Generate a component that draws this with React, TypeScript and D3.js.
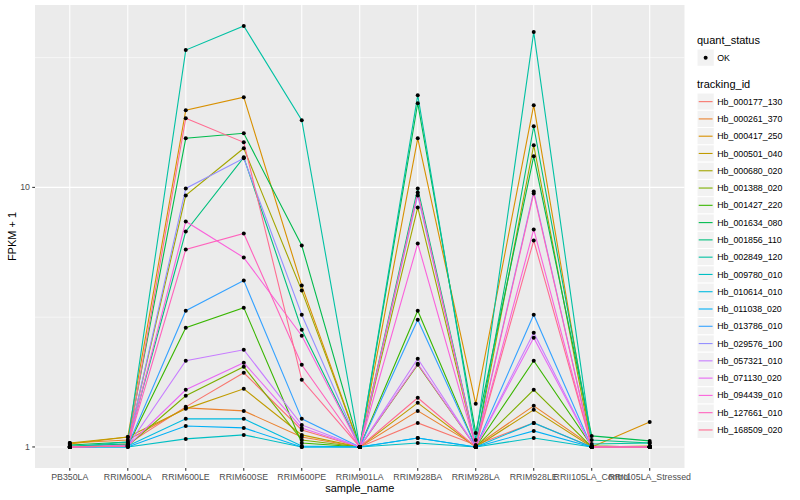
import * as d3 from 'd3';

const samples = [
  'PB350LA', 'RRIM600LA', 'RRIM600LE', 'RRIM600SE', 'RRIM600PE', 'RRIM901LA',
  'RRIM928BA', 'RRIM928LA', 'RRIM928LE', 'RRII105LA_Control', 'RRII105LA_Stressed',
];

const trackingIds = [
  'Hb_000177_130', 'Hb_000261_370', 'Hb_000417_250', 'Hb_000501_040', 'Hb_000680_020',
  'Hb_001388_020', 'Hb_001427_220', 'Hb_001634_080', 'Hb_001856_110', 'Hb_002849_120',
  'Hb_009780_010', 'Hb_010614_010', 'Hb_011038_020', 'Hb_013786_010', 'Hb_029576_100',
  'Hb_057321_010', 'Hb_071130_020', 'Hb_094439_010', 'Hb_127661_010', 'Hb_168509_020',
];

// FPKM + 1, one array per tracking_id, in the order of samples
const hb000177_130 = [1.0, 1.027, 1.427, 1.931, 1.163, 1.0, 1.238, 1.018, 1.238, 1.0, 1.0];
const hb000261_370 = [1.036, 1.064, 1.414, 1.377, 1.093, 1.0, 1.377, 1.009, 1.44, 1.009, 1.0];
const hb000417_250 = [1.027, 1.093, 19.83, 22.26, 4.184, 1.0, 15.46, 1.466, 20.73, 1.0, 1.249];
const hb000501_040 = [1.036, 1.093, 1.402, 1.675, 1.113, 1.0, 1.479, 1.0, 1.39, 1.0, 1.009];
const hb000680_020 = [1.0, 1.027, 9.314, 14.15, 4.003, 1.0, 8.373, 1.0, 14.53, 1.0, 1.0];
const hb001388_020 = [1.0, 1.009, 1.574, 2.036, 1.064, 1.0, 2.073, 1.0, 1.66, 1.0, 1.0];
const hb001427_220 = [1.0, 1.009, 2.88, 3.441, 1.036, 1.0, 3.35, 1.0, 2.148, 1.009, 1.0];
const hb001634_080 = [1.018, 1.045, 15.46, 16.16, 5.972, 1.0, 21.1, 1.133, 13.17, 1.103, 1.055];
const hb001856_110 = [1.009, 1.027, 6.764, 13.06, 2.829, 1.0, 9.911, 1.009, 17.2, 1.064, 1.036];
const hb002849_120 = [1.0, 1.045, 33.81, 41.84, 18.14, 1.0, 22.66, 1.064, 39.67, 1.027, 1.036];
const hb009780_010 = [1.0, 1.0, 1.074, 1.113, 1.0, 1.0, 1.036, 1.0, 1.083, 1.0, 1.0];
const hb010614_010 = [1.0, 1.009, 1.283, 1.283, 1.009, 1.0, 1.083, 1.0, 1.238, 1.0, 1.0];
const hb011038_020 = [1.0, 1.0, 1.205, 1.184, 1.0, 1.0, 1.083, 1.0, 1.153, 1.0, 1.0];
const hb013786_010 = [1.0, 1.009, 3.35, 4.375, 1.283, 1.0, 3.093, 1.0, 3.233, 1.0, 1.0];
const hb029576_100 = [1.0, 1.018, 9.911, 12.94, 3.233, 1.0, 9.314, 1.009, 9.651, 1.0, 1.0];
const hb057321_010 = [1.0, 1.009, 2.148, 2.369, 1.216, 1.0, 2.187, 1.0, 2.755, 1.0, 1.0];
const hb071130_020 = [1.0, 1.009, 1.66, 2.11, 1.184, 1.0, 2.091, 1.0, 2.635, 1.0, 1.0];
const hb094439_010 = [1.0, 1.009, 7.392, 5.366, 2.683, 1.0, 6.079, 1.0, 6.885, 1.0, 1.0];
const hb127661_010 = [1.0, 1.009, 5.763, 6.644, 2.073, 1.0, 9.565, 1.0, 9.48, 1.0, 1.0];
const hb168509_020 = [1.0, 1.009, 18.47, 14.92, 1.814, 1.0, 1.546, 1.0, 6.244, 1.0, 1.0];

const seriesValues = [
  hb000177_130, hb000261_370, hb000417_250, hb000501_040, hb000680_020,
  hb001388_020, hb001427_220, hb001634_080, hb001856_110, hb002849_120,
  hb009780_010, hb010614_010, hb011038_020, hb013786_010, hb029576_100,
  hb057321_010, hb071130_020, hb094439_010, hb127661_010, hb168509_020,
];

// ggplot2 default hue palette for 20 levels
const palette = [
  '#F8766D', '#EA8331', '#D89000', '#C09B00', '#A3A500', '#7CAE00', '#39B600', '#00BB4E',
  '#00BF7D', '#00C1A3', '#00BFC4', '#00BAE0', '#00B0F6', '#35A2FF', '#9590FF', '#C77CFF',
  '#E76BF3', '#FA62DB', '#FF62BC', '#FF6C91',
];

const yBreaks = [1, 10];
const yMinor = [Math.sqrt(10), Math.sqrt(1000)];

const W = 800;
const H = 500;
const panel = { left: 35, right: 684.5, top: 5, bottom: 468 };
const font = '"Liberation Sans", Arial, Helvetica, sans-serif';

export default function App() {
  const all = seriesValues.flat();
  const lo = Math.log10(d3.min(all) as number);
  const hi = Math.log10(d3.max(all) as number);
  const pad = (hi - lo) * 0.05;

  const x = d3.scalePoint<string>()
    .domain(samples)
    .range([panel.left, panel.right])
    .padding(0.6);

  const y = d3.scaleLog()
    .domain([Math.pow(10, lo - pad), Math.pow(10, hi + pad)])
    .range([panel.bottom, panel.top]);

  const line = d3.line<number>()
    .x((_, i) => x(samples[i]) as number)
    .y(d => y(d));

  const legendX = 697;
  const key = 17.28;
  const firstKey = 93;

  return (
    <svg width={W} height={H} style={{ position: 'absolute', left: 0, top: 0 }} fontFamily={font}>
      <rect x={0} y={0} width={W} height={H} fill="#fff" />
      <rect x={panel.left} y={panel.top} width={panel.right - panel.left}
        height={panel.bottom - panel.top} fill="#EBEBEB" />

      {yMinor.filter(v => y(v) > panel.top).map(v => (
        <line key={'mn' + v} x1={panel.left} x2={panel.right} y1={y(v)} y2={y(v)}
          stroke="#fff" strokeWidth={0.55} />
      ))}
      {yBreaks.map(v => (
        <line key={'mj' + v} x1={panel.left} x2={panel.right} y1={y(v)} y2={y(v)}
          stroke="#fff" strokeWidth={1.07} />
      ))}
      {samples.map(s => (
        <line key={'vx' + s} x1={x(s)} x2={x(s)} y1={panel.top} y2={panel.bottom}
          stroke="#fff" strokeWidth={1.07} />
      ))}

      {seriesValues.map((vals, i) => (
        <path key={'l' + i} d={line(vals) as string} fill="none" stroke={palette[i]}
          strokeWidth={1.1} />
      ))}
      {seriesValues.map((vals, i) => (
        <g key={'p' + i}>
          {vals.map((v, j) => (
            <circle key={j} cx={x(samples[j])} cy={y(v)} r={2} fill="#000" />
          ))}
        </g>
      ))}

      {/* y axis */}
      {yBreaks.map(v => (
        <g key={'yt' + v}>
          <line x1={panel.left - 2.75} x2={panel.left} y1={y(v)} y2={y(v)} stroke="#333" strokeWidth={1.07} />
          <text x={panel.left - 5} y={y(v)} dy="0.35em" textAnchor="end" fontSize={8.8} fill="#4D4D4D">
            {v}
          </text>
        </g>
      ))}
      <text transform={`translate(16,${(panel.top + panel.bottom) / 2}) rotate(-90)`}
        textAnchor="middle" fontSize={11} fill="#000">FPKM + 1</text>

      {/* x axis */}
      {samples.map(s => (
        <g key={'xt' + s}>
          <line x1={x(s)} x2={x(s)} y1={panel.bottom} y2={panel.bottom + 2.75} stroke="#333" strokeWidth={1.07} />
          <text x={x(s)} y={panel.bottom + 12} textAnchor="middle" fontSize={8.8} fill="#4D4D4D">
            {s}
          </text>
        </g>
      ))}
      <text x={(panel.left + panel.right) / 2} y={492} textAnchor="middle" fontSize={11} fill="#000">
        sample_name
      </text>

      {/* legends */}
      <text x={legendX} y={44} fontSize={11} fill="#000">quant_status</text>
      <rect x={legendX} y={49} width={key} height={key} fill="#F2F2F2" stroke="#fff" />
      <circle cx={legendX + key / 2} cy={49 + key / 2} r={2} fill="#000" />
      <text x={legendX + key + 3} y={49 + key / 2} dy="0.35em" fontSize={8.8} fill="#000">OK</text>

      <text x={legendX} y={88} fontSize={11} fill="#000">tracking_id</text>
      {trackingIds.map((id, i) => {
        const ky = firstKey + i * key;
        return (
          <g key={id}>
            <rect x={legendX} y={ky} width={key} height={key} fill="#F2F2F2" stroke="#fff" />
            <line x1={legendX + 1.7} x2={legendX + key - 1.7} y1={ky + key / 2} y2={ky + key / 2}
              stroke={palette[i]} strokeWidth={1.1} />
            <text x={legendX + key + 3} y={ky + key / 2} dy="0.35em" fontSize={8.8} fill="#000">{id}</text>
          </g>
        );
      })}
    </svg>
  );
}
